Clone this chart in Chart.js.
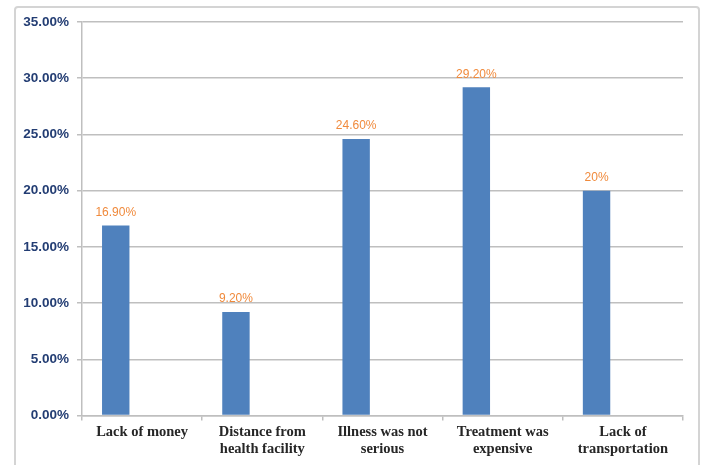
<!DOCTYPE html>
<html>
<head>
<meta charset="utf-8">
<script src="https://cdn.jsdelivr.net/npm/chart.js@4/dist/chart.umd.min.js"></script>
<style>
  body { margin: 0; background: #fff; }
  #frame { position: absolute; left: 14px; top: 6px; width: 682px; height: 470px;
           border: 2px solid #d4d4d4; border-radius: 4px; }
  #chart { position: absolute; left: 0; top: 0; }
</style>
</head>
<body>
<div id="frame"></div>
<canvas id="chart" width="701" height="465"></canvas>
<script>
const categories = [
  ['Lack of money'],
  ['Distance from', 'health facility'],
  ['Illness was not', 'serious'],
  ['Treatment was', 'expensive'],
  ['Lack of', 'transportation']
];
const values = [16.9, 9.2, 24.6, 29.2, 20];
const valueLabels = ['16.90%', '9.20%', '24.60%', '29.20%', '20%'];
const yTicks = { min: 0, max: 35, step: 5 };

// orange value labels above the bars
const barLabels = {
  id: 'barLabels',
  afterDatasetsDraw(chart) {
    const ctx = chart.ctx;
    const meta = chart.getDatasetMeta(0);
    ctx.save();
    ctx.font = '12px "Liberation Sans", Arial, sans-serif';
    ctx.fillStyle = '#F08A3C';
    ctx.textAlign = 'center';
    ctx.textBaseline = 'middle';
    meta.data.forEach((bar, i) => {
      ctx.fillText(valueLabels[i], bar.x, bar.y - 13);
    });
    ctx.restore();
  }
};

new Chart(document.getElementById('chart').getContext('2d'), {
  type: 'bar',
  data: {
    labels: categories,
    datasets: [
      { data: values, backgroundColor: '#4F81BD', categoryPercentage: 0.877, barPercentage: 0.52 },
      { data: values.map(() => null), backgroundColor: 'transparent', categoryPercentage: 0.877, barPercentage: 0.52 }
    ]
  },
  options: {
    responsive: false,
    animation: false,
    layout: { padding: { left: 0, right: 18, top: 22, bottom: 0 } },
    plugins: { legend: { display: false }, tooltip: { enabled: false } },
    scales: {
      x: {
        grid: { drawOnChartArea: false, drawTicks: true, tickLength: 5, color: '#bfbfbf', lineWidth: 1.5 },
        border: { color: '#bfbfbf', width: 1.5 },
        ticks: {
          padding: 3,
          color: '#262626',
          maxRotation: 0,
          autoSkip: false,
          font: { family: '"Liberation Serif", "Times New Roman", serif', size: 14.5, weight: 'bold', lineHeight: 1.2 }
        },
        afterFit(scale) { scale.height = 49.5; }
      },
      y: {
        min: yTicks.min,
        max: yTicks.max,
        grid: { color: '#bfbfbf', lineWidth: 1.5, tickLength: 5 },
        border: { color: '#bfbfbf', width: 1.5 },
        ticks: {
          stepSize: yTicks.step,
          padding: 8,
          color: '#233D73',
          font: { family: '"Liberation Sans", Arial, sans-serif', size: 13.5, weight: 'bold' },
          callback: v => v.toFixed(2) + '%'
        },
        afterFit(scale) { scale.width = 82; }
      }
    }
  },
  plugins: [barLabels]
});
</script>
</body>
</html>
